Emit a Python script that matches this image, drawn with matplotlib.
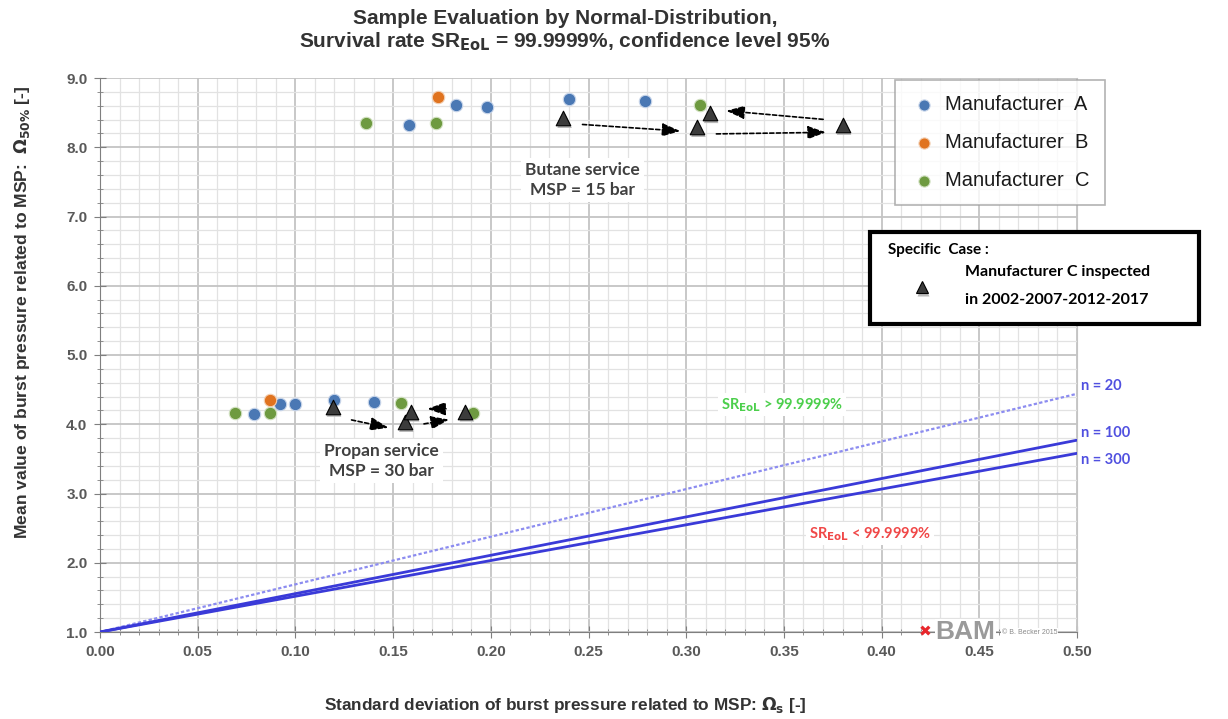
import matplotlib
matplotlib.use("Agg")
import matplotlib.pyplot as plt
import matplotlib.transforms as mtransforms
from matplotlib.ticker import MultipleLocator, FormatStrFormatter
from matplotlib.patches import Rectangle
from matplotlib.lines import Line2D

# ---------------- data ----------------
mfr_a_x = [0.158, 0.182, 0.198, 0.240, 0.279, 0.079, 0.092, 0.100, 0.120, 0.140]
mfr_a_y = [8.32, 8.61, 8.58, 8.70, 8.67, 4.15, 4.29, 4.29, 4.35, 4.32]
mfr_b_x = [0.173, 0.087]
mfr_b_y = [8.73, 4.35]
mfr_c_x = [0.136, 0.172, 0.307, 0.069, 0.087, 0.154, 0.191]
mfr_c_y = [8.35, 8.35, 8.61, 4.16, 4.16, 4.31, 4.16]

# Specific case: Manufacturer C inspected 2002-2007-2012-2017
butane_tri_x = [0.237, 0.3055, 0.380, 0.312]
butane_tri_y = [8.42, 8.29, 8.32, 8.49]
propane_tri_x = [0.119, 0.156, 0.187, 0.159]
propane_tri_y = [4.25, 4.03, 4.18, 4.18]

# limit lines (start and end points)
line_x = [0.0, 0.5]
n20_y = [1.0, 4.44]
n100_y = [1.0, 3.77]
n300_y = [1.0, 3.58]

x_ticks = [0.00, 0.05, 0.10, 0.15, 0.20, 0.25, 0.30, 0.35, 0.40, 0.45, 0.50]
y_ticks = [1.0, 2.0, 3.0, 4.0, 5.0, 6.0, 7.0, 8.0, 9.0]

# ---------------- figure ----------------
plt.rcParams['font.family'] = ['Liberation Sans', 'DejaVu Sans']
fig = plt.figure(figsize=(12.28, 7.19), dpi=100)
ax = fig.add_axes([100/1228, 1-632/719, (1077-100)/1228, (632-78)/719])
ax.set_xlim(0, 0.5)
ax.set_ylim(1.0, 9.0)

ax.xaxis.set_major_locator(MultipleLocator(0.05))
ax.xaxis.set_minor_locator(MultipleLocator(0.01))
ax.yaxis.set_major_locator(MultipleLocator(1.0))
ax.yaxis.set_minor_locator(MultipleLocator(0.2))
ax.set_xticks(x_ticks)
ax.set_yticks(y_ticks)
ax.xaxis.set_major_formatter(FormatStrFormatter('%.2f'))
ax.yaxis.set_major_formatter(FormatStrFormatter('%.1f'))
ax.grid(True, which='major', color='#c4c4c4', lw=1.3)
ax.grid(True, which='minor', color='#e2e2e2', lw=0.9)
ax.set_axisbelow(True)

ax.spines['top'].set_visible(False)
ax.spines['right'].set_color('#c4c4c4')
ax.spines['left'].set_color('#7f7f7f')
ax.spines['bottom'].set_color('#7f7f7f')
ax.tick_params(which='major', direction='inout', length=8, color='#7f7f7f',
               labelsize=11, labelcolor='#595959', pad=5)
ax.tick_params(which='minor', direction='inout', length=5, color='#7f7f7f')
for lbl in ax.get_xticklabels() + ax.get_yticklabels():
    lbl.set_fontweight('bold')

# limit lines
ax.plot(line_x, n20_y, color='#8c8cf0', lw=1.6, ls=(0, (1.5, 1)), zorder=3)
ax.plot(line_x, n100_y, color='#3a3ad8', lw=2.0, zorder=3)
ax.plot(line_x, n300_y, color='#3a3ad8', lw=2.0, zorder=3)

# scatter points
ax.scatter(mfr_a_x, mfr_a_y, s=80, color='#4a78b4', edgecolors='#c9d6ea', linewidths=0.8,
           zorder=4, label='Manufacturer  A')
ax.scatter(mfr_b_x, mfr_b_y, s=80, color='#e0731f', edgecolors='#f3d0b4', linewidths=0.8,
           zorder=4, label='Manufacturer  B')
ax.scatter(mfr_c_x, mfr_c_y, s=80, color='#6e9a40', edgecolors='#d2e1c2', linewidths=0.8,
           zorder=4, label='Manufacturer  C')

# triangles with shadow
shadow = mtransforms.offset_copy(ax.transData, fig=fig, x=1.5, y=-2.5, units='dots')
for tx, ty in [(butane_tri_x, butane_tri_y), (propane_tri_x, propane_tri_y)]:
    ax.scatter(tx, ty, s=110, marker='^', color='#b8b8b8', edgecolors='none',
               transform=shadow, zorder=4)
    ax.scatter(tx, ty, s=110, marker='^', color='#3c3c3c', edgecolors='black',
               linewidths=0.8, zorder=5)

# dashed arrows between inspection years
offsets_b = [-5, -7, 4]
offsets_p = [-9, -5, 3]
for tx, ty, offs in [(butane_tri_x, butane_tri_y, offsets_b), (propane_tri_x, propane_tri_y, offsets_p)]:
    for i in range(len(tx) - 1):
        tr = mtransforms.offset_copy(ax.transData, fig=fig, x=0, y=offs[i], units='dots')
        ax.annotate('', xy=(tx[i+1], ty[i+1]), xytext=(tx[i], ty[i]),
                    xycoords=tr, textcoords=tr,
                    arrowprops=dict(arrowstyle='-|>,head_length=1.1,head_width=0.4',
                                    color='black', lw=1.2, ls=(0, (2.5, 1.5)),
                                    shrinkA=14, shrinkB=12),
                    zorder=6)

# annotations
ax.text(0.247, 7.53, 'Butane service\nMSP = 15 bar', ha='center', va='center',
        fontsize=12.5, fontweight='bold', color='#404040', family=['Lato', 'DejaVu Sans'],
        linespacing=1.3, bbox=dict(facecolor='white', edgecolor='none', pad=3), zorder=7)
ax.text(0.144, 3.47, 'Propan service\nMSP = 30 bar', ha='center', va='center',
        fontsize=12.5, fontweight='bold', color='#404040', family=['Lato', 'DejaVu Sans'],
        linespacing=1.3, bbox=dict(facecolor='white', edgecolor='none', pad=3), zorder=7)

ax.text(0.349, 4.28, r'SR$_{\mathbf{EoL}}$ > 99.9999%', ha='center', va='center',
        fontsize=10.5, fontweight='bold', color='#4ccf4c', family=['Lato', 'DejaVu Sans'],
        bbox=dict(facecolor='white', edgecolor='none', pad=2), zorder=7)
ax.text(0.394, 2.42, r'SR$_{\mathbf{EoL}}$ < 99.9999%', ha='center', va='center',
        fontsize=10.5, fontweight='bold', color='#f04848', family=['Lato', 'DejaVu Sans'],
        bbox=dict(facecolor='white', edgecolor='none', pad=2), zorder=7)

# n labels
ax.text(0.502, 4.55, 'n = 20', ha='left', va='center', fontsize=10.5, fontweight='bold',
        color='#5050e0', family=['Lato', 'DejaVu Sans'], clip_on=False)
ax.text(0.502, 3.87, 'n = 100', ha='left', va='center', fontsize=10.5, fontweight='bold',
        color='#5050e0', family=['Lato', 'DejaVu Sans'], clip_on=False)
ax.text(0.502, 3.49, 'n = 300', ha='left', va='center', fontsize=10.5, fontweight='bold',
        color='#5050e0', family=['Lato', 'DejaVu Sans'], clip_on=False)

# legend
leg = ax.legend(loc='upper right', bbox_to_anchor=((1105-100)/977, (632-80)/554),
                borderaxespad=0.0, frameon=True,
                fontsize=14.5, handletextpad=0.35, labelspacing=0.95, borderpad=0.75,
                handlelength=1.4, fancybox=False, markerscale=0.9)
leg.get_frame().set_edgecolor('#a0a0a0')
leg.get_frame().set_linewidth(1.2)
for t in leg.get_texts():
    t.set_color('#1a1a1a')

# specific case box (figure coords)
box = Rectangle((870/1228, 1-324/719), (1199-870)/1228, (324-232)/719,
                transform=fig.transFigure, facecolor='white', edgecolor='black',
                lw=3, zorder=10)
fig.patches.append(box)
fig.text(888/1228, 1-250/719, 'Specific  Case :', fontsize=11, fontweight='bold',
         family=['Lato', 'DejaVu Sans'], va='center', ha='left', zorder=11)
fig.text(965/1228, 1-272/719, 'Manufacturer C inspected', fontsize=11.5, fontweight='bold',
         family=['Lato', 'DejaVu Sans'], va='center', ha='left', zorder=11)
fig.text(965/1228, 1-300/719, 'in 2002-2007-2012-2017', fontsize=11.5, fontweight='bold',
         family=['Lato', 'DejaVu Sans'], va='center', ha='left', zorder=11)
fig.add_artist(Line2D([923.5/1228], [1-289.5/719], transform=fig.transFigure, marker='^',
                      markersize=9, color='#bbbbbb', markeredgecolor='none', zorder=11))
fig.add_artist(Line2D([922/1228], [1-287/719], transform=fig.transFigure, marker='^',
                      markersize=9, color='#3c3c3c', markeredgecolor='black',
                      markeredgewidth=0.8, zorder=12))

# BAM logo
ax.text(0.4225, 1.0, '\u2716', color='#e8262b', fontsize=11, ha='center', va='center',
        family=['DejaVu Sans'], zorder=7, clip_on=False)
ax.text(0.4275, 1.0, 'BAM', color='#9a9a9a', fontsize=19, fontweight='bold', ha='left',
        va='center', zorder=7, clip_on=False,
        bbox=dict(facecolor='white', edgecolor='none', pad=0.5))
ax.text(0.4615, 1.0, '\u00a9 B. Becker 2015', color='#8a8a8a', fontsize=5, ha='left',
        va='center', zorder=7, clip_on=False,
        bbox=dict(facecolor='white', edgecolor='none', pad=0.5))

# titles and axis labels
fig.text(565/1228, 1-18/719, 'Sample Evaluation by Normal-Distribution,', ha='center',
         va='center', fontsize=15, fontweight='bold', color='#333333')
fig.text(565/1228, 1-42/719, r'Survival rate SR$_{\mathbf{EoL}}$ = 99.9999%, confidence level 95%',
         ha='center', va='center', fontsize=15, fontweight='bold', color='#333333')
fig.text(565/1228, 1-705/719, r'Standard deviation of burst pressure related to MSP: $\mathbf{\Omega_s}$ [-]',
         ha='center', va='center', fontsize=12.4, fontweight='bold', color='#333333')
fig.text(22/1228, 1-312/719, r'Mean value of burst pressure related to MSP:  $\mathbf{\Omega_{50\%}}$ [-]',
         ha='center', va='center', rotation=90, fontsize=12.6, fontweight='bold', color='#333333')

fig.savefig('out.png', dpi=100)
